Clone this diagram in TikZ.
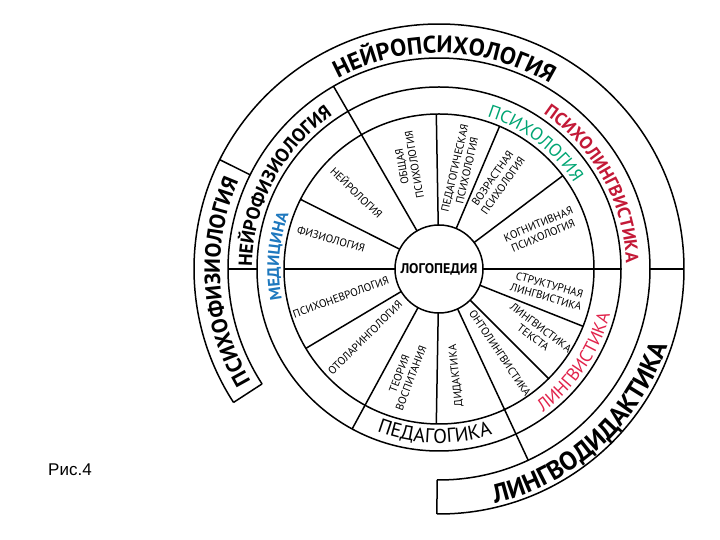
\documentclass[tikz,border=0pt]{standalone}
\usepackage{fontspec}
\setmainfont{PT Sans}
\newfontfamily\arialf{Liberation Sans}
\usetikzlibrary{decorations.text}
\definecolor{medblue}{RGB}{30,120,190}
\definecolor{psygreen}{RGB}{0,165,115}
\definecolor{lingred}{RGB}{225,35,75}
\definecolor{plred}{RGB}{195,25,55}
\newcommand\fs[1]{\fontsize{#1}{#1}\selectfont}
\begin{document}
\begin{tikzpicture}[x=1pt,y=1pt,line width=1.5pt,
  lab/.style={font=\fontsize{11}{12.5}\selectfont, align=center, inner sep=0pt},
  ring/.style={decorate, decoration={text along path, text align=center, text={#1}}}]
\useasboundingbox (0,0) rectangle (720,540);
\def\ra{44}\def\rb{155}\def\rc{182}\def\rd{211}\def\re{245}
\begin{scope}[shift={(439,271)}]
  % rings
  \node[circle, draw, minimum size=88pt, inner sep=0pt, font=\bfseries\fs{14}] (logo) at (0,0) {ЛОГОПЕДИЯ};
  \draw (0,0) circle[radius=\rb];
  \draw (0,0) circle[radius=\rc];
  \draw (-90.5:\rd) arc[start angle=-90.5, end angle=213, radius=\rd];
  \draw (-90.5:\re) arc[start angle=-90.5, end angle=213, radius=\re];
  % caps
  \draw (153.5:\rd) -- (153.5:\re);
  \draw (213:\rd) -- (213:\re);
  \draw (0:\rd) -- (0:\re);
  \draw (-90.5:\rd) -- (-90.5:\re);
  \draw (180:\rc) -- (180:\rd);
  % spokes
  \foreach \a in {180,153.3,91,67,37,-21.7,-45,-91,210.8}
    \draw (\a:\ra) -- (\a:\rb);
  \draw (120:\ra) -- (120:\rd);
  \draw (-65:\ra) -- (-65:\rd);
  \draw (0:\ra) -- (0:\rc);
  \draw (-118.5:\ra) -- (-118.5:\rc);
  % sector labels
  \node[lab, rotate=-16] (s1) at (164.5:112) {ФИЗИОЛОГИЯ};
  \node[lab, rotate=-44] (s2) at (137:112) {НЕЙРОЛОГИЯ};
  \node[lab, rotate=100] (s3) at (106.6:108) {ОБЩАЯ\\ПСИХОЛОГИЯ};
  \node[lab, rotate=77] (s4) at (77.6:102) {ПЕДАГОГИЧЕСКАЯ\\ПСИХОЛОГИЯ};
  \node[lab, rotate=55] (s5) at (56:105) {ВОЗРАСТНАЯ\\ПСИХОЛОГИЯ};
  \node[lab, rotate=23] (s6) at (21:109) {КОГНИТИВНАЯ\\ПСИХОЛОГИЯ};
  \node[lab, rotate=-16] (s7) at (-11.4:111) {СТРУКТУРНАЯ\\ЛИНГВИСТИКА};
  \node[lab, rotate=-37] (s8) at (-33:117) {ЛИНГВИСТИКА\\ТЕКСТА};
  \node[lab, rotate=-56] (s9) at (-54:104) {ОНТОЛИНГВИСТИКА};
  \node[lab, rotate=96] (s10) at (-81:108) {ДИДАКТИКА};
  \node[lab, rotate=69] (s11) at (-107.6:112) {ТЕОРИЯ\\ВОСПИТАНИЯ};
  \node[lab, rotate=45] (s12) at (223:101) {ОТОЛАРИНГОЛОГИЯ};
  \node[lab, rotate=20] (s13) at (196:102) {ПСИХОНЕВРОЛОГИЯ};
  % curved labels (tops outward: clockwise paths)
  \path[ring={|\bfseries\fs{24}|НЕЙРОПСИХОЛОГИЯ}] (170:216) arc[start angle=170, end angle=7, radius=216];
  \path[ring={|\bfseries\fs{22}|ПСИХОФИЗИОЛОГИЯ}] (240:219) arc[start angle=240, end angle=127, radius=219];
  \path[ring={|\bfseries\fs{19}|НЕЙРОФИЗИОЛОГИЯ}] (210:187) arc[start angle=210, end angle=94, radius=187];
  \path[ring={|\bfseries\fs{16.5}\color{medblue}|МЕДИЦИНА}] (215:160) arc[start angle=215, end angle=136, radius=160];
  \path[ring={|\fs{18}\color{psygreen}|ПСИХОЛОГИЯ}] (100:160) arc[start angle=100, end angle=5, radius=160];
  \path[ring={|\bfseries\fs{18}\color{plred}|ПСИХОЛИНГВИСТИКА}] (90:187) arc[start angle=90, end angle=-32, radius=187];
  % curved labels (tops inward: counter-clockwise paths)
  \path[ring={|\fs{18}\color{lingred}|ЛИНГВИСТИКА}] (-80:177) arc[start angle=-80, end angle=11, radius=177];
  \path[ring={|\fs{20}|ПЕДАГОГИКА}] (-140:174) arc[start angle=-140, end angle=-43, radius=174];
  \path[ring={|\bfseries\fs{26}|ЛИНГВОДИДАКТИКА}] (-110:241) arc[start angle=-110, end angle=15, radius=241];
\end{scope}
\node[font=\arialf\fs{17}, inner sep=0pt] (fig) at (70,70) {Рис.4};
\end{tikzpicture}
\end{document}
